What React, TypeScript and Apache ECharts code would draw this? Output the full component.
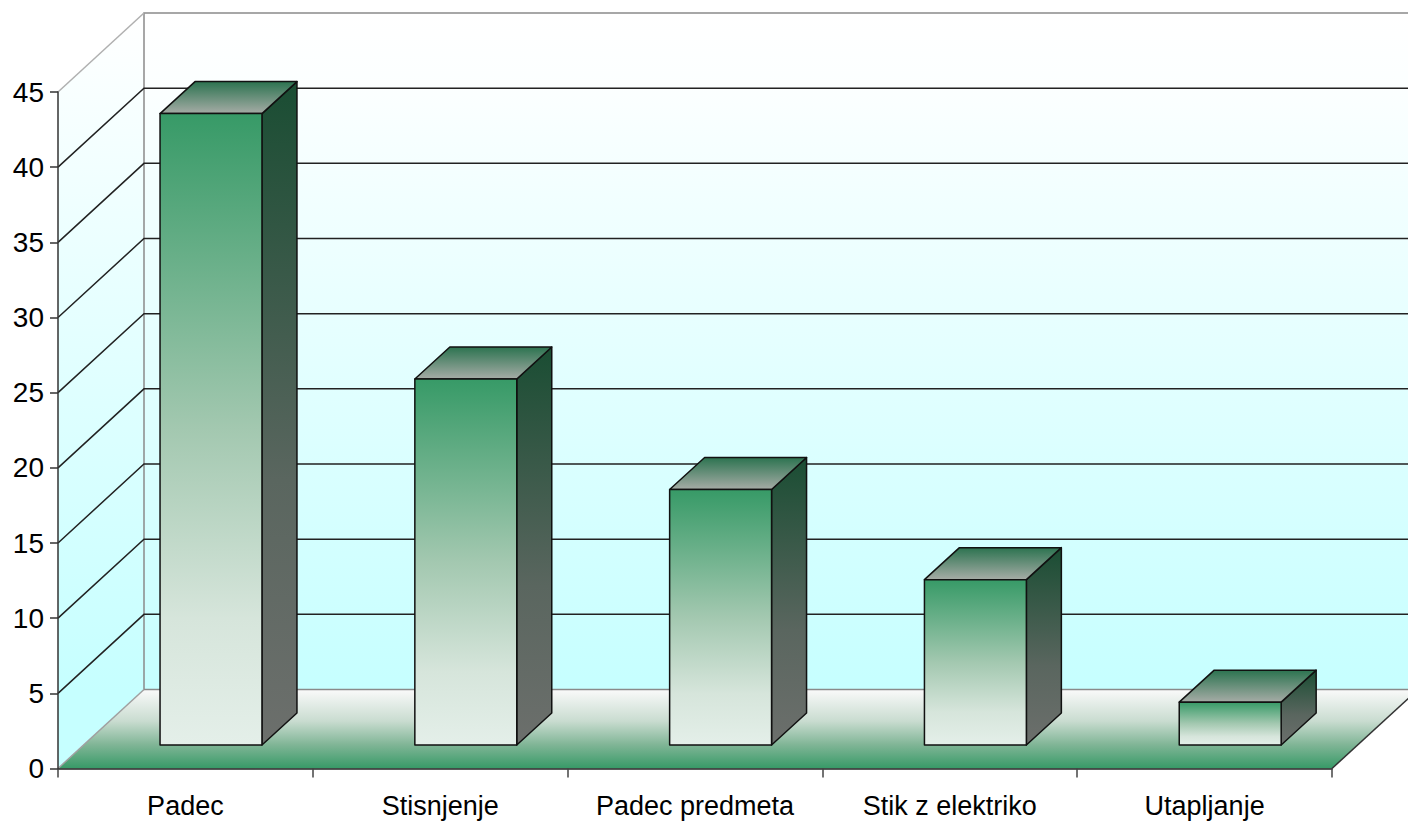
import React, { useEffect, useRef } from "react";
import * as echarts from "echarts";

const categories = ["Padec", "Stisnjenje", "Padec predmeta", "Stik z elektriko", "Utapljanje"];
const values = [42, 24.35, 17, 11, 2.85];
const gridValues = [5, 10, 15, 20, 25, 30, 35, 40, 45];

const DX = 86, DY = 79;
const BAR_X = 25.6, BAR_Y = 23.5, BAR_DX = 35, BAR_DY = 32;

const grad = (stops: [number, string][]) => ({
  type: "linear", x: 0, y: 0, x2: 0, y2: 1, global: false,
  colorStops: stops.map(([offset, color]) => ({ offset, color })),
});
const poly = (points: number[][], style: any) => ({ type: "polygon", shape: { points }, style });

export default function App() {
  const ref = useRef<HTMLDivElement>(null);
  useEffect(() => {
    const chart = echarts.init(ref.current!, undefined, { renderer: "svg" });
    chart.setOption({
      animation: false,
      backgroundColor: "#ffffff",
      grid: { left: 58, top: 92, width: 1274, height: 676.5, containLabel: false },
      xAxis: {
        type: "category", data: categories, z: 5,
        axisLine: { lineStyle: { color: "#222", width: 1.5 } },
        axisTick: { show: true, alignWithLabel: false, length: 9, lineStyle: { color: "#444", width: 1.5 } },
        axisLabel: { color: "#000", fontFamily: "Liberation Sans", fontSize: 27, margin: 24, interval: 0 },
      },
      yAxis: {
        type: "value", min: 0, max: 45, interval: 5, z: 5,
        splitLine: { show: false },
        axisLine: { show: true, lineStyle: { color: "#333", width: 1.5 } },
        axisTick: { show: true, length: 8, lineStyle: { color: "#333", width: 1.5 } },
        axisLabel: { color: "#000", fontFamily: "Liberation Sans", fontSize: 28, margin: 14 },
      },
      series: [
        {
          type: "custom", z: 1, silent: true, data: [[0, 0]],
          renderItem: (params: any) => {
            const { x, y, width, height } = params.coordSys;
            const b = y + height, r = x + width;
            const top = y - DY, fb = b - DY;
            const stopAt = (fb - top) / (b - top);
            const wall = grad([[0, "#ffffff"], [0.12, "#fbffff"], [1, "#c6ffff"]]);
            return {
              type: "group",
              children: [
                poly([[x + DX, top], [r + DX, top], [r + DX, fb], [x + DX, fb]], { fill: wall }),
                poly([[x, y], [x + DX, top], [x + DX, fb], [x, b]], {
                  fill: grad([[0, "#ffffff"], [stopAt, "#c6ffff"], [1, "#c6ffff"]]),
                }),
                poly([[x, b], [r, b], [r + DX, fb], [x + DX, fb]], {
                  fill: grad([[0, "#fafafa"], [0.4, "#c9dcd0"], [0.7, "#80b596"], [1, "#379a67"]]),
                }),
                { type: "polyline", shape: { points: [[r + DX, top], [x + DX, top], [x + DX, fb], [r + DX, fb]] }, style: { fill: "none", stroke: "#8a8a8a", lineWidth: 1.5 } },
                { type: "line", shape: { x1: x, y1: b, x2: x + DX, y2: fb }, style: { stroke: "#a0a0a0", lineWidth: 1.5 } },
                { type: "line", shape: { x1: r, y1: b, x2: r + DX, y2: fb }, style: { stroke: "#333", lineWidth: 1.5 } },
              ],
            };
          },
        },
        {
          type: "custom", z: 2, silent: true,
          data: gridValues.map((v) => [0, v]),
          renderItem: (params: any, api: any) => {
            const v = api.value(1);
            const py = api.coord([0, v])[1];
            const { x, width } = params.coordSys;
            const isTop = v === 45;
            return {
              type: "polyline",
              shape: { points: isTop ? [[x, py], [x + DX, py - DY]] : [[x, py], [x + DX, py - DY], [x + width + DX, py - DY]] },
              style: { fill: "none", stroke: isTop ? "#b0b0b0" : "#222", lineWidth: 1.5 },
            };
          },
        },
        {
          type: "custom", z: 3, silent: true,
          data: values.map((v, i) => [i, v]),
          renderItem: (_params: any, api: any) => {
            const i = api.value(0);
            const v = api.value(1);
            const [cx, ty] = api.coord([i, v]);
            const by = api.coord([i, 0])[1];
            const w = api.size([1, 0])[0] * 0.4;
            const l = cx + BAR_X - w / 2, r = l + w;
            const t = ty - BAR_Y, b = by - BAR_Y;
            const edge = { stroke: "#111", lineWidth: 1.5, lineJoin: "round" };
            return {
              type: "group",
              children: [
                poly([[r, t], [r + BAR_DX, t - BAR_DY], [r + BAR_DX, b - BAR_DY], [r, b]], {
                  fill: grad([[0, "#1a4d33"], [0.6, "#5a665f"], [1, "#6c6f6c"]]), ...edge,
                }),
                poly([[l, t], [l + BAR_DX, t - BAR_DY], [r + BAR_DX, t - BAR_DY], [r, t]], {
                  fill: grad([[0, "#2c7350"], [1, "#a6aca6"]]), ...edge,
                }),
                poly([[l, t], [r, t], [r, b], [l, b]], {
                  fill: grad([[0, "#379a67"], [0.5, "#a3c8b0"], [0.8, "#d6e5db"], [1, "#e4efe9"]]), ...edge,
                }),
              ],
            };
          },
        },
      ],
    });
    return () => chart.dispose();
  }, []);
  return (
    <div
      ref={ref}
      style={{ position: "fixed", left: 0, top: 0, width: 1408, height: 826, overflow: "hidden" }}
    />
  );
}
